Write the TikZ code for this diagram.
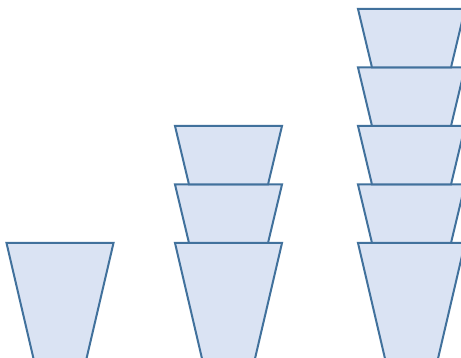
\documentclass[tikz,border=0pt]{standalone}
\definecolor{cupline}{HTML}{41719C}
\definecolor{cupfill}{HTML}{DAE3F3}
\tikzset{
  cupstyle/.style={draw=cupline, fill=cupfill, line width=2pt, line join=miter},
  smallcup/.pic={\path[cupstyle] (0,0) -- (107,0) -- (93,58.5) -- (14,58.5) -- cycle;},
  bigcup/.pic={\path[cupstyle] (0,0) -- (107,0) -- (75,137) -- (32,137) -- cycle;}
}
\begin{document}
\begin{tikzpicture}[x=1pt,y=-1pt]
\useasboundingbox (0,0) rectangle (461,358);
\clip (0,0) rectangle (461,358);
% left column
\pic at (6.5,243) {bigcup};
% middle column
\pic at (175,243) {bigcup};
\pic at (175,184.5) {smallcup};
\pic at (175,126) {smallcup};
% right column
\pic at (358,243) {bigcup};
\pic at (358,184.5) {smallcup};
\pic at (358,126) {smallcup};
\pic at (358,67.5) {smallcup};
\pic at (358,9) {smallcup};
\end{tikzpicture}
\end{document}
